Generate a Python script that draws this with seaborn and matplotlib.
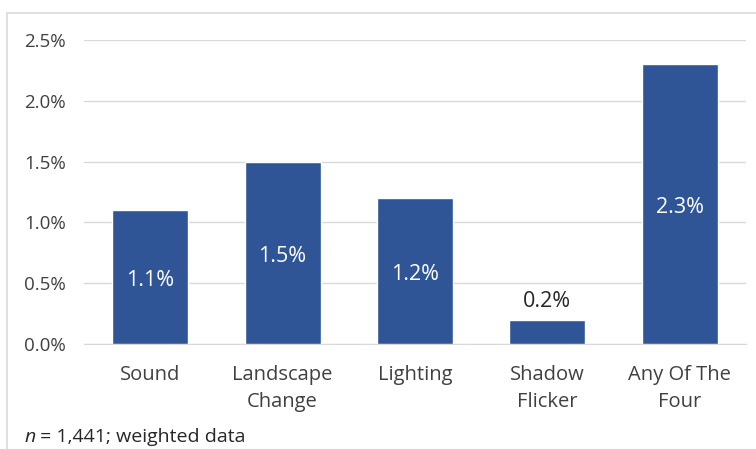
import matplotlib
matplotlib.use('Agg')
import matplotlib.pyplot as plt
import seaborn as sns
import pandas as pd
from matplotlib.patches import Rectangle

#data
categories = ['Sound', 'Landscape\nChange', 'Lighting', 'Shadow\nFlicker', 'Any Of The\nFour']
values = [1.1, 1.5, 1.2, 0.2, 2.3]
yticks = [0.0, 0.5, 1.0, 1.5, 2.0, 2.5]

df = pd.DataFrame({'category': categories, 'value': values})

sns.set_style('white')
plt.rcParams['font.family'] = ['Open Sans', 'DejaVu Sans']

fig = plt.figure(figsize=(7.56, 4.49), dpi=100)
ax = fig.add_axes([84 / 756, 1 - 344 / 449, (746 - 84) / 756, (344 - 40) / 449])

#outer frame
fig.patches.append(Rectangle((7 / 756, -0.01), 1.0, 1 - 13 / 449 + 0.01,
                             transform=fig.transFigure, fill=False,
                             edgecolor='#D9D9D9', linewidth=1.2))

sns.barplot(data=df, x='category', y='value', color='#2F5597', width=0.575,
            saturation=1, ax=ax, zorder=3)

ax.set_ylim(0, 2.5)
ax.set_yticks(yticks)
ax.set_yticklabels([f'{t:.1f}%' for t in yticks], fontsize=13.5, color='#404040')
ax.set_xticks(range(len(categories)))
ax.set_xticklabels(categories, fontsize=14.5, color='#404040', linespacing=1.5)
ax.tick_params(axis='x', length=0, pad=15)
ax.tick_params(axis='y', length=0, pad=13)
ax.yaxis.grid(True, color='#D9D9D9', linewidth=1, zorder=0)
ax.set_xlabel('')
ax.set_ylabel('')
for side in ['top', 'right', 'left']:
    ax.spines[side].set_visible(False)
ax.spines['bottom'].set_color('#D9D9D9')

#value labels
for i, v in enumerate(values):
    if v < 0.5:
        ax.text(i, v + 0.06, f'{v:.1f}%', ha='center', va='bottom', fontsize=15.5, color='#262626')
    else:
        ax.text(i, v / 2 - 0.03, f'{v:.1f}%', ha='center', va='center', fontsize=15.5, color='white')

#footnote
fig.text(25 / 756, 1 - 437 / 449, 'n', fontsize=14, style='italic', color='#262626', va='center')
fig.text(35 / 756, 1 - 437 / 449, ' = 1,441; weighted data', fontsize=14, color='#262626', va='center')

fig.savefig('out.png', dpi=100)
